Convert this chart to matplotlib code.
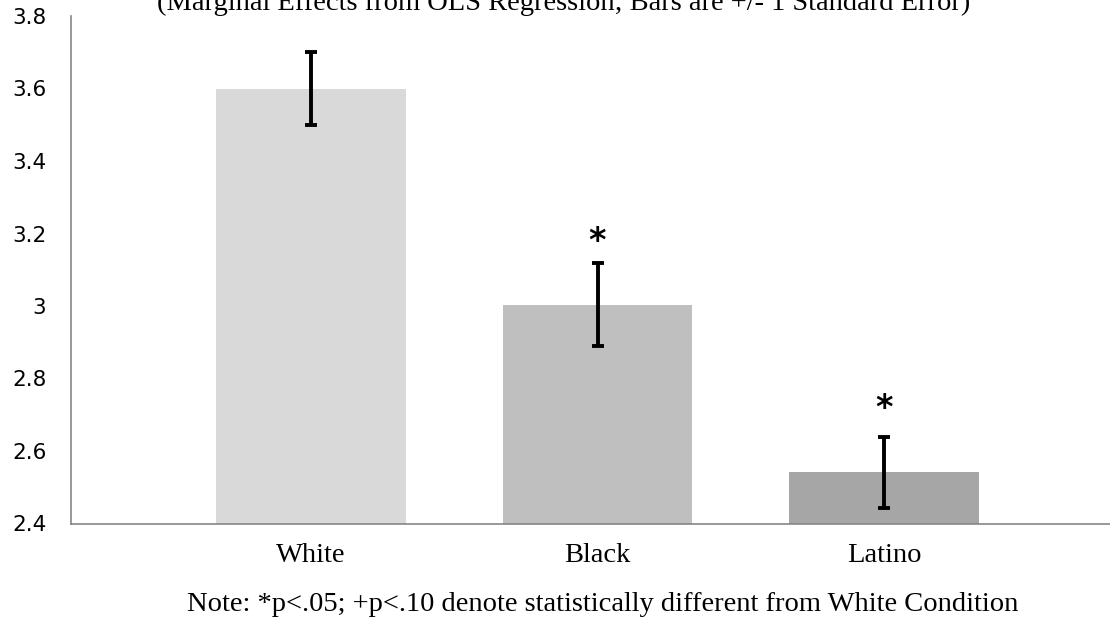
import matplotlib
matplotlib.use("Agg")
import matplotlib.pyplot as plt
from matplotlib.ticker import FuncFormatter, MultipleLocator

categories = ["White", "Black", "Latino"]
values = [3.60, 3.004, 2.542]
std_errors = [0.10, 0.115, 0.098]
sig_marks = ["", "*", "*"]
bar_colors = ["#D9D9D9", "#BFBFBF", "#A6A6A6"]
title_text = "(Marginal Effects from OLS Regression; Bars are +/- 1 Standard Error)"
note_text = "Note: *p<.05; +p<.10 denote statistically different from White Condition"

fig = plt.figure(figsize=(11.1, 6.2), dpi=100)
ax = fig.add_axes([70.7 / 1110, 1 - 523.5 / 620, 1 - 70.7 / 1110, (523.5 - 16) / 620])

x = list(range(len(categories)))
ax.bar(x, values, width=0.663, color=bar_colors, zorder=2)
ax.errorbar(x, values, yerr=std_errors, fmt="none", ecolor="black",
            elinewidth=2.8, capsize=4.5, capthick=2.8, zorder=3)

for xi, v, m in zip(x, values, sig_marks):
    if m:
        ax.text(xi, v + 0.175, m, ha="center", va="center",
                fontsize=24, fontweight="bold", family="DejaVu Sans", color="black")

ax.set_ylim(2.4, 3.8)
ax.set_xlim(-0.839, 2.789)
ax.yaxis.set_major_locator(MultipleLocator(0.2))
ax.yaxis.set_major_formatter(FuncFormatter(lambda v, p: f"{round(v, 2):g}"))
ax.set_xticks(x)
ax.set_xticklabels(categories, family="Liberation Serif", fontsize=20.5)
for lbl in ax.get_yticklabels():
    lbl.set_family("DejaVu Sans")
    lbl.set_fontsize(15.5)
ax.tick_params(axis="y", length=0, pad=17.5)
ax.tick_params(axis="x", length=0, pad=14)

for s in ["top", "right"]:
    ax.spines[s].set_visible(False)
for s in ["left", "bottom"]:
    ax.spines[s].set_color("#868686")
    ax.spines[s].set_linewidth(1.2)

fig.text(564 / 1110, 1 - 10 / 620, title_text, ha="center", va="baseline",
         family="Liberation Serif", fontsize=20.5)
fig.text(603 / 1110, 1 - 611 / 620, note_text, ha="center", va="baseline",
         family="Liberation Serif", fontsize=20.5)

fig.savefig("out.png", dpi=100)
